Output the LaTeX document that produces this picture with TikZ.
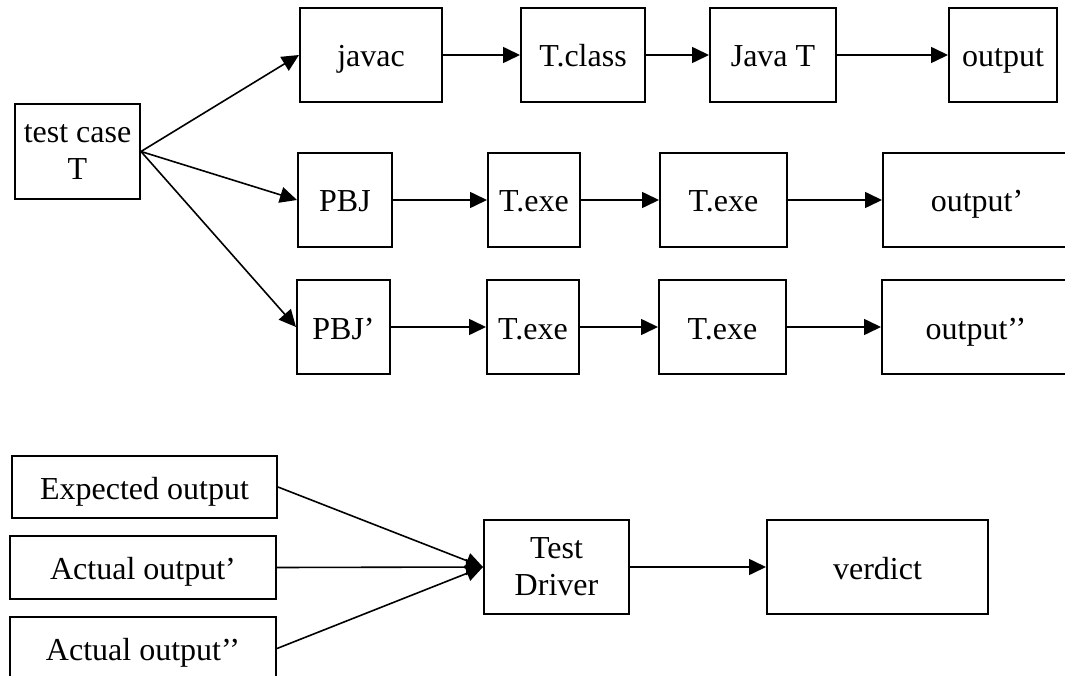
\documentclass[tikz,border=0pt]{standalone}
\usepackage{fontspec}
\setmainfont{Liberation Serif}
\usetikzlibrary{arrows.meta}
\begin{document}
\begin{tikzpicture}[x=1pt,y=-1pt,
  box/.style={draw,line width=2pt,inner sep=0pt,align=center,font=\fontsize{32}{37}\selectfont},
  one/.style={text height=24pt,text depth=0pt},
  conn/.style={line width=1.6pt,-{Triangle[length=17pt,width=16pt]}}]
\useasboundingbox (0,0) rectangle (1065,676);
\fill[white] (0,0) rectangle (1065,676);
% top part
\node[box,minimum width=125pt,minimum height=95pt] (tc) at (77.5,151.5) {test case\\T};
\node[box,one,minimum width=142pt,minimum height=94pt] (javac) at (371,55) {javac};
\node[box,one,minimum width=124pt,minimum height=94pt] (tclass) at (583,55) {T.class};
\node[box,one,minimum width=126pt,minimum height=94pt] (javat) at (773,55) {Java T};
\node[box,one,minimum width=108pt,minimum height=94pt] (out) at (1003,55) {output};
\node[box,one,minimum width=94pt,minimum height=94pt] (pbj) at (345,200) {PBJ};
\node[box,one,minimum width=92pt,minimum height=94pt] (texea) at (534,200) {T.exe};
\node[box,one,minimum width=127pt,minimum height=94pt] (texeb) at (723.5,200) {T.exe};
\node[box,one,minimum width=188pt,minimum height=94pt] (outp) at (977,200) {output’};
\node[box,one,minimum width=93pt,minimum height=94pt] (pbjp) at (343.5,327) {PBJ’};
\node[box,one,minimum width=92pt,minimum height=94pt] (texec) at (533,327) {T.exe};
\node[box,one,minimum width=127pt,minimum height=94pt] (texed) at (722.5,327) {T.exe};
\node[box,one,minimum width=188pt,minimum height=94pt] (outpp) at (976,327) {output’’};
% bottom part
\node[box,one,minimum width=265pt,minimum height=62pt] (exp) at (144.5,487) {Expected output};
\node[box,one,minimum width=266pt,minimum height=63pt] (acta) at (143,567.5) {Actual output’};
\node[box,one,minimum width=266pt,minimum height=63pt] (actb) at (143,648.5) {Actual output’’};
\node[box,minimum width=145pt,minimum height=94pt] (td) at (556.5,567) {Test\\Driver};
\node[box,one,minimum width=221pt,minimum height=94pt] (verdict) at (877.5,567) {verdict};
% connectors
\draw[conn] (tc.east) -- (javac.west);
\draw[conn] (tc.east) -- (pbj.west);
\draw[conn] (tc.east) -- (pbjp.west);
\draw[conn] (javac) -- (tclass);
\draw[conn] (tclass) -- (javat);
\draw[conn] (javat) -- (out);
\draw[conn] (pbj) -- (texea);
\draw[conn] (texea) -- (texeb);
\draw[conn] (texeb) -- (outp);
\draw[conn] (pbjp) -- (texec);
\draw[conn] (texec) -- (texed);
\draw[conn] (texed) -- (outpp);
\draw[conn] (exp.east) -- (td.west);
\draw[conn] (acta.east) -- (td.west);
\draw[conn] (actb.east) -- (td.west);
\draw[conn] (td) -- (verdict);
\end{tikzpicture}
\end{document}
